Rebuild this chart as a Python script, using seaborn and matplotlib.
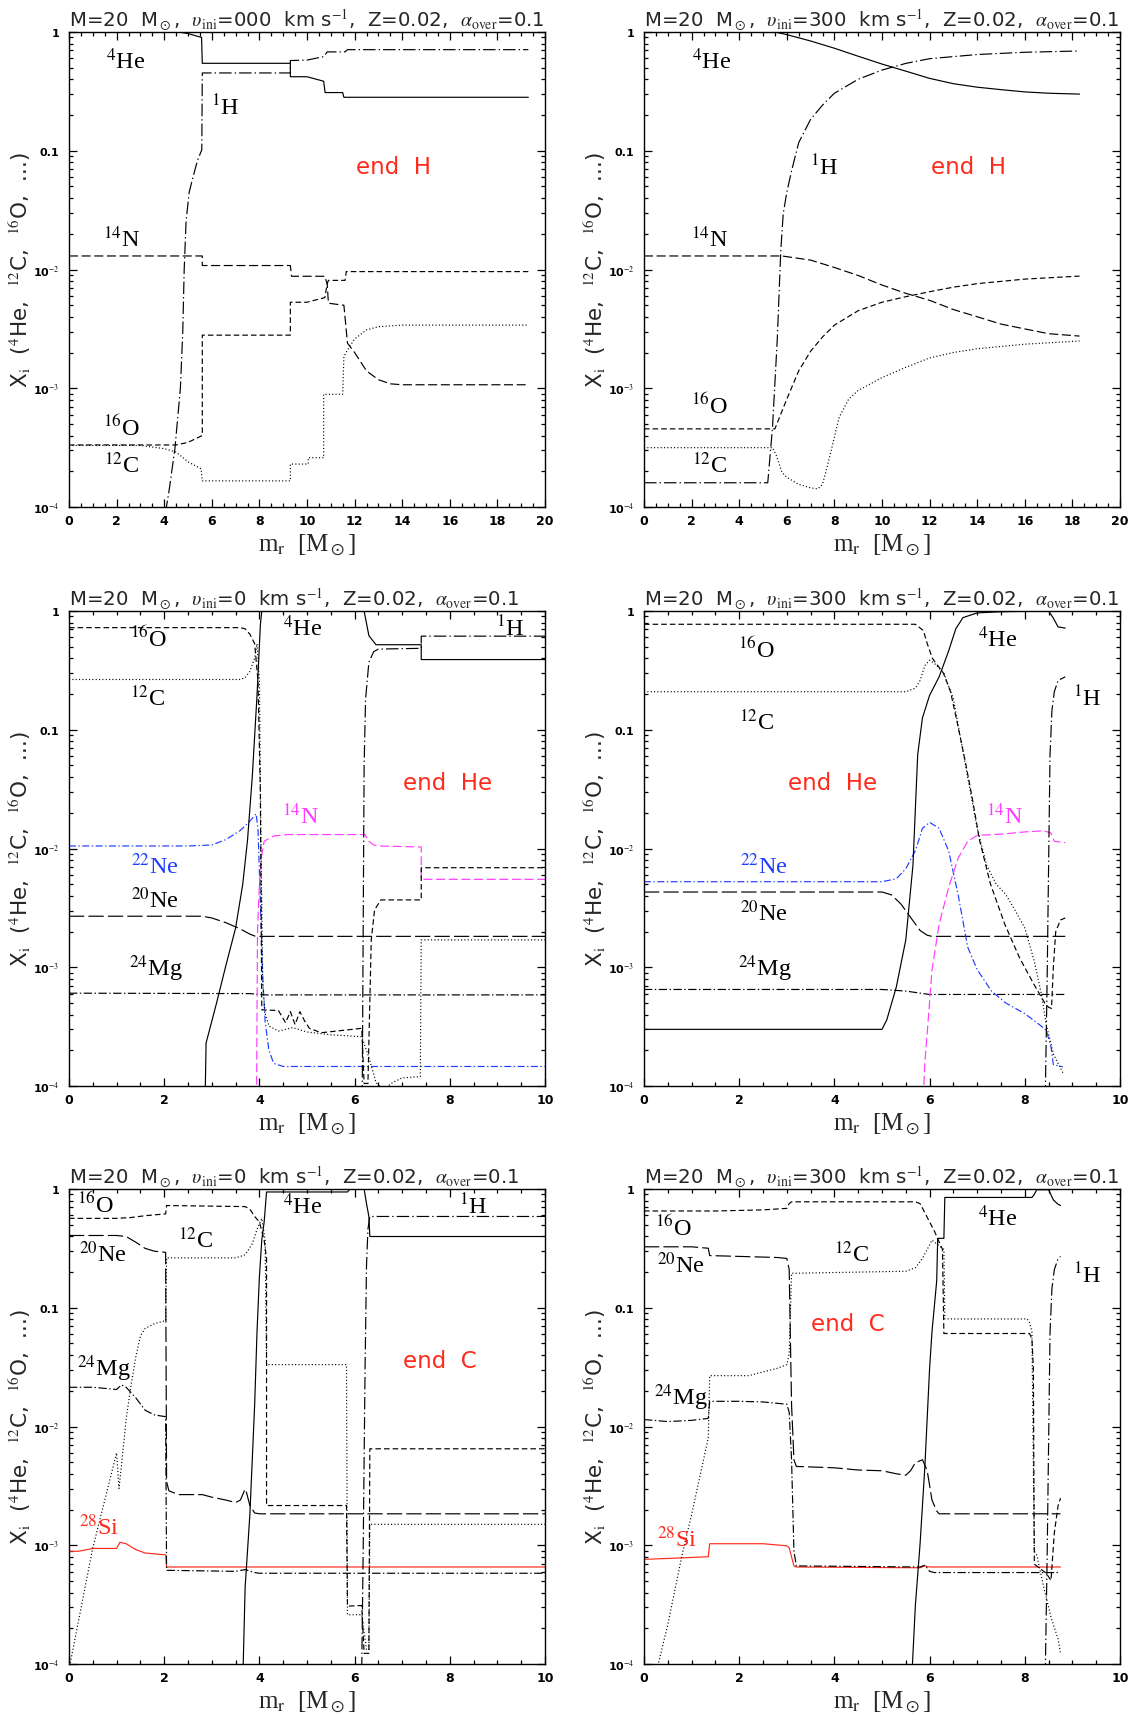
import matplotlib
matplotlib.use("Agg")
import matplotlib.pyplot as plt
import seaborn as sns
from matplotlib.ticker import FixedLocator, MultipleLocator, NullFormatter, LogLocator

# ---------------- Panel 1 : end of H burning, v_ini = 0 ----------------
P1_HE_X = [0, 4.6, 5.0, 5.57, 5.6, 9.3, 9.3, 10.0, 10.7, 10.76, 11.5, 11.55, 19.3]
P1_HE_Y = [1.0, 1.0, 0.97, 0.90, 0.545, 0.545, 0.42, 0.42, 0.385, 0.309, 0.309, 0.282, 0.282]
P1_H_X = [4.05, 4.2, 4.45, 4.68, 4.78, 4.84, 4.92, 5.05, 5.2, 5.4, 5.58, 5.6, 9.3, 9.3, 10.0, 10.7, 10.85, 11.6, 11.7, 19.3]
P1_H_Y = [8.9e-5, 1.35e-4, 3.1e-4, 1e-3, 3e-3, 1e-2, 0.0257, 0.0447, 0.059, 0.083, 0.102, 0.452, 0.452, 0.575, 0.58, 0.62, 0.68, 0.68, 0.71, 0.71]
P1_N_X = [0, 5.6, 5.6, 9.3, 9.35, 10.75, 10.85, 10.9, 11.55, 11.7, 12.0, 12.5, 13.0, 13.5, 14.0, 19.3]
P1_N_Y = [0.013, 0.013, 0.0108, 0.0108, 0.00877, 0.00877, 0.0075, 0.0052, 0.005, 0.0024, 0.002, 0.0014, 0.00118, 0.00109, 0.00107, 0.00107]
P1_O_X = [0, 4.5, 5.0, 5.6, 5.6, 9.3, 9.3, 10.0, 10.75, 10.85, 10.9, 11.6, 11.65, 19.3]
P1_O_Y = [3.33e-4, 3.33e-4, 3.5e-4, 4.0e-4, 2.8e-3, 2.8e-3, 5.3e-3, 5.3e-3, 5.8e-3, 7.6e-3, 8.1e-3, 8.1e-3, 9.6e-3, 9.6e-3]
P1_C_X = [0, 3, 4, 4.5, 5, 5.55, 5.6, 9.3, 9.3, 10.05, 10.05, 10.7, 10.7, 11.5, 11.55, 11.7, 12.0, 12.5, 13.0, 14.0, 19.3]
P1_C_Y = [3.3e-4, 3.3e-4, 3.1e-4, 2.9e-4, 2.4e-4, 2.1e-4, 1.66e-4, 1.66e-4, 2.3e-4, 2.3e-4, 2.6e-4, 2.6e-4, 8.9e-4, 8.9e-4, 1.85e-3, 2.1e-3, 2.6e-3, 3.1e-3, 3.3e-3, 3.4e-3, 3.4e-3]

# ---------------- Panel 2 : end of H burning, v_ini = 300 ----------------
P2_HE_X = [0, 5.5, 6, 7, 8, 9, 10, 11, 12, 13, 14, 15, 16, 17, 18.3]
P2_HE_Y = [1.0, 1.0, 0.95, 0.84, 0.73, 0.625, 0.537, 0.468, 0.407, 0.367, 0.343, 0.327, 0.313, 0.305, 0.30]
P2_H_X = [0, 5.2, 5.4, 5.6, 5.75, 5.85, 6.0, 6.2, 6.5, 7.0, 7.5, 8.0, 9.0, 10.0, 11.0, 12.0, 14.0, 16.0, 18.3]
P2_H_Y = [1.6e-4, 1.6e-4, 4.7e-4, 2.6e-3, 0.0148, 0.0295, 0.0447, 0.0676, 0.117, 0.184, 0.242, 0.305, 0.40, 0.478, 0.544, 0.596, 0.646, 0.675, 0.692]
P2_N_X = [0, 5.8, 7, 8, 9, 10, 11, 12, 13, 14, 15, 16, 17, 18.3]
P2_N_Y = [0.013, 0.013, 0.012, 0.0104, 0.0089, 0.0074, 0.0063, 0.0055, 0.0046, 0.0040, 0.00347, 0.00316, 0.00288, 0.00275]
P2_O_X = [0, 5.5, 6, 6.5, 7, 7.5, 8, 9, 10, 11, 12, 13, 14, 16, 18.3]
P2_O_Y = [4.55e-4, 4.55e-4, 8.1e-4, 1.4e-3, 2.05e-3, 2.7e-3, 3.4e-3, 4.5e-3, 5.3e-3, 5.9e-3, 6.5e-3, 7.1e-3, 7.6e-3, 8.3e-3, 8.8e-3]
P2_C_X = [0, 5.4, 5.55, 5.8, 6.0, 6.5, 7.0, 7.3, 7.5, 7.7, 7.9, 8.2, 8.6, 9.0, 10, 11, 12, 13, 14, 16, 18.3]
P2_C_Y = [3.16e-4, 3.16e-4, 2.75e-4, 1.95e-4, 1.78e-4, 1.55e-4, 1.45e-4, 1.42e-4, 1.55e-4, 2.2e-4, 3.2e-4, 5.7e-4, 8.1e-4, 9.6e-4, 1.23e-3, 1.5e-3, 1.8e-3, 2.0e-3, 2.15e-3, 2.35e-3, 2.5e-3]

# ---------------- Panel 3 : end of He burning, v_ini = 0 ----------------
P3_HE_X = [2.86, 2.88, 3.1, 3.3, 3.5, 3.65, 3.75, 3.85, 3.95, 4.02, 4.05, 6.2, 6.3, 6.45, 7.4, 7.4, 10]
P3_HE_Y = [8e-5, 2.3e-4, 5.0e-4, 1.05e-3, 2.14e-3, 5.0e-3, 0.0117, 0.040, 0.195, 0.76, 1.0, 1.0, 0.62, 0.52, 0.52, 0.39, 0.39]
P3_H_X = [6.16, 6.2, 6.23, 6.3, 6.4, 6.5, 7.4, 7.4, 10]
P3_H_Y = [8e-5, 0.05, 0.18, 0.37, 0.454, 0.478, 0.485, 0.614, 0.614]
P3_O_X = [0, 3.6, 3.7, 3.8, 3.9, 3.97, 4.02, 4.05, 4.4, 4.55, 4.65, 4.75, 4.85, 4.95, 5.05, 5.3, 6.15, 6.2, 6.28, 6.35, 6.42, 6.55, 7.4, 7.4, 10]
P3_O_Y = [0.724, 0.724, 0.708, 0.637, 0.532, 0.26, 0.030, 4.38e-4, 4.32e-4, 3.41e-4, 4.23e-4, 3.29e-4, 4.23e-4, 3.53e-4, 3.06e-4, 2.81e-4, 3.06e-4, 1.05e-4, 1.05e-4, 1.71e-3, 3.04e-3, 3.69e-3, 3.69e-3, 6.89e-3, 6.89e-3]
P3_C_X = [0, 3.6, 3.7, 3.8, 3.9, 3.95, 4.0, 4.03, 4.07, 4.12, 4.2, 4.4, 4.7, 5.0, 5.5, 6.15, 6.3, 6.45, 6.6, 6.8, 7.0, 7.38, 7.4, 10]
P3_C_Y = [0.265, 0.265, 0.275, 0.31, 0.40, 0.53, 0.26, 0.0148, 7.2e-4, 4.1e-4, 3.2e-4, 2.9e-4, 3.1e-4, 2.85e-4, 2.7e-4, 2.6e-4, 1.74e-4, 1.07e-4, 9.3e-5, 1.07e-4, 1.17e-4, 1.2e-4, 1.7e-3, 1.7e-3]
P3_NE22_X = [0, 2.5, 3.0, 3.3, 3.6, 3.8, 3.93, 3.97, 4.02, 4.07, 4.12, 4.2, 4.3, 4.5, 10]
P3_NE22_Y = [0.0105, 0.0105, 0.0107, 0.0119, 0.0142, 0.017, 0.0196, 0.0148, 3.5e-3, 8.3e-4, 3.5e-4, 2.0e-4, 1.55e-4, 1.46e-4, 1.46e-4]
P3_N_X = [3.94, 3.96, 4.0, 4.05, 4.1, 4.3, 4.6, 6.22, 6.3, 6.4, 6.5, 7.4, 7.4, 10]
P3_N_Y = [8e-5, 2e-3, 5e-3, 8.9e-3, 0.0115, 0.01276, 0.0131, 0.0131, 0.0115, 0.0107, 0.0105, 0.0103, 5.5e-3, 5.5e-3]
P3_NE20_X = [0, 2.8, 3.0, 3.3, 3.6, 3.8, 3.92, 10]
P3_NE20_Y = [2.69e-3, 2.69e-3, 2.6e-3, 2.37e-3, 2.1e-3, 1.9e-3, 1.82e-3, 1.82e-3]
P3_MG_X = [0, 3.8, 4.1, 10]
P3_MG_Y = [6.05e-4, 6.0e-4, 5.85e-4, 5.85e-4]

# ---------------- Panel 4 : end of He burning, v_ini = 300 ----------------
P4_HE_X = [0, 5.0, 5.1, 5.3, 5.5, 5.65, 5.75, 5.85, 6.0, 6.2, 6.4, 6.55, 6.7, 7.0, 7.5, 8.5, 8.6, 8.7, 8.85]
P4_HE_Y = [3.0e-4, 3.0e-4, 3.6e-4, 6.8e-4, 1.7e-3, 7.2e-3, 0.062, 0.126, 0.195, 0.279, 0.461, 0.708, 0.879, 0.964, 0.986, 1.0, 0.87, 0.734, 0.718]
P4_H_X = [8.43, 8.47, 8.5, 8.53, 8.57, 8.62, 8.7, 8.85]
P4_H_Y = [8e-5, 8.3e-4, 7.2e-3, 0.062, 0.146, 0.209, 0.26, 0.279]
P4_O_X = [0, 5.7, 5.87, 5.95, 6.06, 6.29, 6.44, 6.59, 6.75, 6.9, 7.05, 7.28, 7.58, 7.89, 8.19, 8.42, 8.5, 8.56, 8.6, 8.65, 8.75, 8.85]
P4_O_Y = [0.773, 0.773, 0.684, 0.532, 0.398, 0.30, 0.209, 0.11, 0.054, 0.026, 0.0117, 5.0e-3, 2.3e-3, 1.2e-3, 7.2e-4, 5.0e-4, 4.6e-4, 4.5e-4, 1.0e-3, 2.0e-3, 2.5e-3, 2.6e-3]
P4_C_X = [0, 5.5, 5.7, 5.8, 5.9, 6.0, 6.1, 6.3, 6.5, 6.6, 6.8, 7.0, 7.2, 7.4, 7.6, 7.8, 8.0, 8.2, 8.35, 8.45, 8.6, 8.8]
P4_C_Y = [0.209, 0.209, 0.224, 0.26, 0.347, 0.385, 0.363, 0.30, 0.182, 0.11, 0.0398, 0.0148, 7.2e-3, 5.0e-3, 4.1e-3, 3.0e-3, 2.14e-3, 1.12e-3, 5.9e-4, 3.3e-4, 1.86e-4, 1.29e-4]
P4_NE22_X = [0, 5.0, 5.3, 5.5, 5.7, 5.85, 6.0, 6.2, 6.4, 6.6, 6.8, 7.0, 7.3, 7.6, 8.0, 8.3, 8.45, 8.55, 8.6, 8.8]
P4_NE22_Y = [5.25e-3, 5.25e-3, 5.56e-3, 6.76e-3, 9.55e-3, 0.0148, 0.0166, 0.0148, 9.55e-3, 4.07e-3, 1.48e-3, 9.55e-4, 6.3e-4, 5.0e-4, 4.07e-4, 3.3e-4, 2.95e-4, 2.14e-4, 1.51e-4, 1.45e-4]
P4_N_X = [5.87, 5.9, 5.95, 6.05, 6.2, 6.4, 6.6, 6.8, 7.0, 7.5, 8.0, 8.4, 8.55, 8.62, 8.85]
P4_N_Y = [8e-5, 1.58e-4, 2.8e-4, 9.5e-4, 2.3e-3, 4.7e-3, 8.3e-3, 0.0115, 0.0129, 0.0132, 0.0138, 0.0141, 0.0135, 0.0115, 0.0112]
P4_NE20_X = [0, 5.0, 5.2, 5.4, 5.6, 5.8, 5.95, 6.05, 8.85]
P4_NE20_Y = [4.3e-3, 4.3e-3, 4.07e-3, 3.4e-3, 2.63e-3, 2.04e-3, 1.86e-3, 1.82e-3, 1.82e-3]
P4_MG_X = [0, 5.0, 5.5, 6.0, 8.85]
P4_MG_Y = [6.5e-4, 6.5e-4, 6.3e-4, 5.9e-4, 5.9e-4]

# ---------------- Panel 5 : end of C burning, v_ini = 0 ----------------
P5_O_X = [0, 1.0, 1.3, 1.6, 2.03, 2.05, 3.7, 3.8, 3.9, 4.0, 4.1, 4.15, 4.15, 5.83, 5.85, 6.15, 6.2, 6.3, 6.32, 10]
P5_O_Y = [0.566, 0.566, 0.575, 0.596, 0.617, 0.726, 0.711, 0.676, 0.587, 0.528, 0.371, 0.26, 2.16e-3, 2.16e-3, 3.07e-4, 3.11e-4, 1.23e-4, 1.23e-4, 6.49e-3, 6.49e-3]
P5_C_X = [0.0, 0.5, 1.0, 1.05, 1.1, 1.2, 1.3, 1.4, 1.5, 1.6, 1.8, 2.03, 2.05, 3.5, 3.7, 3.85, 3.95, 4.05, 4.12, 4.15, 5.83, 5.85, 6.15, 6.25, 6.3, 6.32, 10]
P5_C_Y = [9e-5, 9.5e-4, 6.0e-3, 3.0e-3, 4.6e-3, 0.0115, 0.0218, 0.038, 0.058, 0.067, 0.0735, 0.078, 0.263, 0.263, 0.279, 0.345, 0.458, 0.566, 0.371, 0.0332, 0.0332, 2.6e-4, 2.6e-4, 1.32e-4, 1.32e-4, 1.5e-3, 1.5e-3]
P5_NE20_X = [0, 1.0, 1.2, 1.4, 1.6, 1.8, 2.03, 2.05, 2.1, 2.3, 2.8, 3.0, 3.3, 3.5, 3.6, 3.7, 3.72, 3.8, 3.9, 4.0, 10]
P5_NE20_Y = [0.406, 0.406, 0.398, 0.357, 0.316, 0.299, 0.293, 3.43e-3, 2.87e-3, 2.67e-3, 2.67e-3, 2.54e-3, 2.4e-3, 2.29e-3, 2.4e-3, 2.97e-3, 2.87e-3, 2.16e-3, 1.87e-3, 1.84e-3, 1.84e-3]
P5_MG_X = [0, 0.5, 1.0, 1.1, 1.2, 1.4, 1.6, 1.8, 2.03, 2.05, 3.5, 3.7, 3.9, 4.0, 10]
P5_MG_Y = [0.0214, 0.0214, 0.0205, 0.0224, 0.0214, 0.0175, 0.0137, 0.0125, 0.0121, 6.15e-4, 6.03e-4, 6.24e-4, 5.89e-4, 5.81e-4, 5.81e-4]
P5_SI_X = [0, 0.2, 0.5, 1.0, 1.07, 1.2, 1.4, 1.6, 2.03, 2.05, 10]
P5_SI_Y = [8.9e-4, 8.9e-4, 9.4e-4, 9.4e-4, 1.06e-3, 1.03e-3, 9.2e-4, 8.6e-4, 8.3e-4, 6.56e-4, 6.56e-4]
P5_HE_X = [3.64, 3.66, 3.7, 3.8, 3.9, 3.95, 4.0, 4.05, 4.1, 4.15, 5.85, 5.9, 6.2, 6.25, 6.3, 6.32, 10]
P5_HE_Y = [9e-5, 1e-4, 4.4e-4, 1.82e-3, 0.0151, 0.063, 0.182, 0.371, 0.528, 0.944, 0.944, 1.0, 1.0, 0.753, 0.587, 0.398, 0.398]
P5_H_X = [6.15, 6.18, 6.22, 6.25, 6.28, 6.32, 10]
P5_H_Y = [9e-5, 8.9e-4, 0.031, 0.225, 0.458, 0.587, 0.587]

# ---------------- Panel 6 : end of C burning, v_ini = 300 ----------------
P6_O_X = [0, 1.5, 2.5, 3.0, 3.05, 3.1, 5.7, 5.8, 5.9, 6.0, 6.1, 6.15, 6.27, 6.3, 8.1, 8.15, 8.18, 8.2, 8.3, 8.45, 8.55, 8.62, 8.7, 8.75]
P6_O_Y = [0.653, 0.653, 0.667, 0.687, 0.753, 0.78, 0.78, 0.753, 0.631, 0.528, 0.443, 0.398, 0.31, 0.0607, 0.0607, 0.0546, 0.0309, 6.93e-4, 6.46e-4, 5.81e-4, 5.05e-4, 1.27e-3, 2.16e-3, 2.49e-3]
P6_C_X = [0.25, 0.3, 0.5, 0.8, 1.0, 1.2, 1.35, 1.38, 2.2, 2.5, 2.8, 3.0, 3.05, 3.1, 5.5, 5.7, 5.85, 5.95, 6.05, 6.15, 6.3, 6.32, 8.05, 8.1, 8.15, 8.2, 8.25, 8.4, 8.55, 8.7, 8.75]
P6_C_Y = [8e-5, 1e-4, 2.15e-4, 8.3e-4, 1.81e-3, 4.24e-3, 8.0e-3, 0.0268, 0.0268, 0.0288, 0.0309, 0.0332, 0.041, 0.195, 0.203, 0.217, 0.26, 0.31, 0.371, 0.345, 0.31, 0.0805, 0.0805, 0.075, 0.0628, 8.9e-4, 8.3e-4, 4.4e-4, 2.48e-4, 1.62e-4, 1.22e-4]
P6_NE20_X = [0, 1.0, 1.35, 1.38, 2.8, 3.0, 3.05, 3.1, 3.15, 3.2, 4.0, 4.5, 5.0, 5.3, 5.5, 5.6, 5.7, 5.85, 5.95, 6.05, 6.15, 6.2, 8.75]
P6_NE20_Y = [0.326, 0.326, 0.317, 0.275, 0.265, 0.26, 0.21, 0.0152, 5.25e-3, 4.61e-3, 4.49e-3, 4.3e-3, 4.24e-3, 4.0e-3, 3.89e-3, 4.24e-3, 4.95e-3, 5.25e-3, 4.24e-3, 2.4e-3, 1.94e-3, 1.84e-3, 1.84e-3]
P6_MG_X = [0, 0.5, 1.0, 1.35, 1.38, 2.0, 2.5, 3.0, 3.05, 3.1, 3.15, 3.2, 5.8, 5.9, 6.0, 6.1, 8.75]
P6_MG_Y = [0.01145, 0.0110, 0.01127, 0.0117, 0.0163, 0.0163, 0.0161, 0.0154, 0.0132, 5.25e-3, 8.9e-4, 6.7e-4, 6.56e-4, 6.8e-4, 6.03e-4, 5.89e-4, 5.89e-4]
P6_SI_X = [0, 1.35, 1.38, 2.5, 3.0, 3.05, 3.15, 3.2, 5.8, 5.9, 6.0, 8.75]
P6_SI_Y = [7.6e-4, 8.0e-4, 1.03e-3, 1.03e-3, 9.9e-4, 9.5e-4, 6.7e-4, 6.56e-4, 6.46e-4, 6.7e-4, 6.56e-4, 6.56e-4]
P6_HE_X = [5.62, 5.64, 5.7, 5.8, 5.9, 6.0, 6.05, 6.1, 6.15, 6.17, 6.3, 6.32, 8.15, 8.2, 8.25, 8.5, 8.6, 8.7, 8.75]
P6_HE_Y = [9e-5, 1e-4, 3.07e-4, 1.03e-3, 4.55e-3, 0.0309, 0.0628, 0.103, 0.17, 0.384, 0.384, 0.849, 0.849, 0.9, 0.986, 0.986, 0.809, 0.743, 0.726]
P6_H_X = [8.43, 8.47, 8.5, 8.53, 8.57, 8.62, 8.7, 8.75]
P6_H_Y = [8e-5, 8.3e-4, 7.2e-3, 0.062, 0.146, 0.209, 0.26, 0.27]

# ---------------- panel texts ----------------
VINI = ["000", "300", "0", "300", "0", "300"]
XMAX = [20, 20, 10, 10, 10, 10]
PHASE = ["end  H", "end  H", "end  He", "end  He", "end  C", "end  C"]
PHASE_POS = [(13.63, 0.073), (13.64, 0.073), (7.95, 0.036), (3.97, 0.036), (7.78, 0.036), (4.29, 0.0734)]

P1_LABELS = [("$^{4}$He", 2.37, 0.575, "k"), ("$^{1}$H", 6.56, 0.234, "k"), ("$^{14}$N", 2.21, 0.0184, "k"),
             ("$^{16}$O", 2.21, 4.7e-4, "k"), ("$^{12}$C", 2.21, 2.3e-4, "k")]
P2_LABELS = [("$^{4}$He", 2.84, 0.575, "k"), ("$^{1}$H", 7.59, 0.073, "k"), ("$^{14}$N", 2.77, 0.0184, "k"),
             ("$^{16}$O", 2.77, 7.2e-4, "k"), ("$^{12}$C", 2.77, 2.3e-4, "k")]
P3_LABELS = [("$^{16}$O", 1.66, 0.59, "k"), ("$^{12}$C", 1.66, 0.188, "k"), ("$^{4}$He", 4.92, 0.73, "k"),
             ("$^{1}$H", 9.27, 0.73, "k"), ("$^{14}$N", 4.87, 0.0189, "magenta"), ("$^{22}$Ne", 1.81, 7.2e-3, "blue"),
             ("$^{20}$Ne", 1.81, 3.7e-3, "k"), ("$^{24}$Mg", 1.82, 1.0e-3, "k")]
P4_LABELS = [("$^{16}$O", 2.37, 0.478, "k"), ("$^{12}$C", 2.37, 0.118, "k"), ("$^{4}$He", 7.43, 0.583, "k"),
             ("$^{1}$H", 9.31, 0.188, "k"), ("$^{14}$N", 7.58, 0.0189, "magenta"), ("$^{22}$Ne", 2.52, 7.2e-3, "blue"),
             ("$^{20}$Ne", 2.52, 2.87e-3, "k"), ("$^{24}$Mg", 2.53, 1.0e-3, "k")]
P5_LABELS = [("$^{16}$O", 0.565, 0.743, "k"), ("$^{20}$Ne", 0.72, 0.289, "k"), ("$^{12}$C", 2.66, 0.376, "k"),
             ("$^{4}$He", 4.92, 0.726, "k"), ("$^{1}$H", 8.49, 0.726, "k"), ("$^{24}$Mg", 0.73, 0.0313, "k"),
             ("$^{28}$Si", 0.63, 1.44e-3, "red")]
P6_LABELS = [("$^{16}$O", 0.62, 0.475, "k"), ("$^{20}$Ne", 0.77, 0.234, "k"), ("$^{12}$C", 4.37, 0.289, "k"),
             ("$^{4}$He", 7.43, 0.58, "k"), ("$^{1}$H", 9.31, 0.189, "k"), ("$^{24}$Mg", 0.78, 0.0178, "k"),
             ("$^{28}$Si", 0.69, 1.14e-3, "red")]

# ---------------- styles ----------------
RED = "#ff2a1c"
BLUE = "#1f3cff"
MAGENTA = "#ff3cff"
STYLE = {
    "HE": ("black", "-"),
    "H": ("black", (0, (9, 2.2, 1, 2.2))),
    "O": ("black", (0, (4, 2.2))),
    "C": ("black", (0, (0.8, 1.6))),
    "N": ("black", (0, (6.5, 2.6))),
    "NM": (MAGENTA, (0, (6.5, 2.6))),
    "NE22": (BLUE, (0, (5, 1.8, 1, 1.8))),
    "NE20": ("black", (0, (11, 3))),
    "MG": ("black", (0, (6, 1.8, 1, 1.8))),
    "SI": (RED, "-"),
}

PANELS = [
    [("HE", P1_HE_X, P1_HE_Y), ("H", P1_H_X, P1_H_Y), ("N", P1_N_X, P1_N_Y), ("O", P1_O_X, P1_O_Y), ("C", P1_C_X, P1_C_Y)],
    [("HE", P2_HE_X, P2_HE_Y), ("H", P2_H_X, P2_H_Y), ("N", P2_N_X, P2_N_Y), ("O", P2_O_X, P2_O_Y), ("C", P2_C_X, P2_C_Y)],
    [("MG", P3_MG_X, P3_MG_Y), ("NE20", P3_NE20_X, P3_NE20_Y), ("NE22", P3_NE22_X, P3_NE22_Y), ("NM", P3_N_X, P3_N_Y),
     ("C", P3_C_X, P3_C_Y), ("O", P3_O_X, P3_O_Y), ("H", P3_H_X, P3_H_Y), ("HE", P3_HE_X, P3_HE_Y)],
    [("MG", P4_MG_X, P4_MG_Y), ("NE20", P4_NE20_X, P4_NE20_Y), ("NE22", P4_NE22_X, P4_NE22_Y), ("NM", P4_N_X, P4_N_Y),
     ("C", P4_C_X, P4_C_Y), ("O", P4_O_X, P4_O_Y), ("H", P4_H_X, P4_H_Y), ("HE", P4_HE_X, P4_HE_Y)],
    [("SI", P5_SI_X, P5_SI_Y), ("MG", P5_MG_X, P5_MG_Y), ("NE20", P5_NE20_X, P5_NE20_Y), ("C", P5_C_X, P5_C_Y),
     ("O", P5_O_X, P5_O_Y), ("H", P5_H_X, P5_H_Y), ("HE", P5_HE_X, P5_HE_Y)],
    [("SI", P6_SI_X, P6_SI_Y), ("MG", P6_MG_X, P6_MG_Y), ("NE20", P6_NE20_X, P6_NE20_Y), ("C", P6_C_X, P6_C_Y),
     ("O", P6_O_X, P6_O_Y), ("H", P6_H_X, P6_H_Y), ("HE", P6_HE_X, P6_HE_Y)],
]
LABELS = [P1_LABELS, P2_LABELS, P3_LABELS, P4_LABELS, P5_LABELS, P6_LABELS]
COLMAP = {"k": "black", "magenta": MAGENTA, "blue": BLUE, "red": RED}

# ---------------- figure ----------------
sns.set_style("ticks")
plt.rcParams["font.family"] = ["DejaVu Sans"]
plt.rcParams["mathtext.fontset"] = "stix"
plt.rcParams["lines.scale_dashes"] = False

W, H = 1138, 1724
fig = plt.figure(figsize=(W / 100, H / 100), dpi=100)
lefts = [69, 644]
tops = [33, 612, 1190]
aw, ah = 476, 475

YT = [1e-4, 1e-3, 1e-2, 0.1, 1]
YTL = ["10$^{-4}$", "10$^{-3}$", "10$^{-2}$", "0.1", "1"]

for i in range(6):
    r, c = divmod(i, 2)
    ax = fig.add_axes([lefts[c] / W, 1 - (tops[r] + ah) / H, aw / W, ah / H])
    for key, xs, ys in PANELS[i]:
        col, ls = STYLE[key]
        sns.lineplot(x=xs, y=ys, ax=ax, color=col, linestyle=ls, linewidth=0.85,
                     estimator=None, sort=False, legend=False)
    ax.set_yscale("log")
    ax.set_ylim(1e-4, 1)
    ax.set_xlim(0, XMAX[i])
    ax.yaxis.set_major_locator(FixedLocator(YT))
    ax.set_yticklabels(YTL)
    ax.yaxis.set_minor_locator(LogLocator(base=10, subs=range(2, 10)))
    ax.yaxis.set_minor_formatter(NullFormatter())
    ax.xaxis.set_major_locator(MultipleLocator(2))
    ax.xaxis.set_minor_locator(MultipleLocator(0.5))
    ax.tick_params(which="both", direction="in", top=True, right=True, width=0.9, colors="black")
    ax.tick_params(which="major", length=5.5)
    ax.tick_params(which="minor", length=2.8)
    ax.tick_params(axis="y", which="major", pad=7, labelsize=8)
    ax.tick_params(axis="x", which="major", pad=5, labelsize=9)
    for lab in ax.get_yticklabels() + ax.get_xticklabels():
        lab.set_fontweight("bold")
    for sp in ax.spines.values():
        sp.set_linewidth(1.0)
        sp.set_color("black")
    ax.set_title("M=20  M$_\\odot$,  $\\upsilon_{\\rm ini}$=" + VINI[i] +
                 "  km s$^{-1}$,  Z=0.02,  $\\alpha_{\\rm over}$=0.1",
                 fontsize=14.2, pad=4, loc="left")
    ax.set_xlabel("m$_{\\rm r}$  [M$_\\odot$]", fontsize=18, family="Liberation Serif")
    ax.xaxis.set_label_coords(0.5, -0.052)
    ax.set_ylabel("X$_{\\rm i}$  ($^{4}$He,  $^{12}$C,  $^{16}$O,  ...)", fontsize=15.5)
    ax.yaxis.set_label_coords(-0.075, 0.5)
    for txt, x, y, cc in LABELS[i]:
        ax.text(x, y, txt, fontsize=17.5, family="Liberation Serif", color=COLMAP[cc],
                ha="center", va="center")
    px, py = PHASE_POS[i]
    ax.text(px, py, PHASE[i], fontsize=16.5, color=RED, ha="center", va="center")

fig.savefig("out.png", dpi=100)
